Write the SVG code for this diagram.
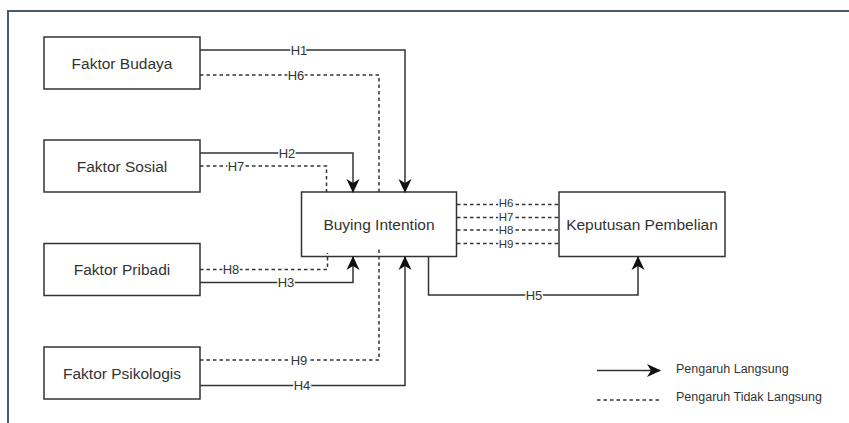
<svg xmlns="http://www.w3.org/2000/svg" width="849" height="423" viewBox="0 0 849 423">
<style>
.box{fill:#fff;stroke:#333;stroke-width:1.5}
.t{font-family:"Liberation Sans",Arial,sans-serif;font-size:15.5px;fill:#333;text-anchor:middle;dominant-baseline:central}
.ln{fill:none;stroke:#333;stroke-width:1.5}
.dl{fill:none;stroke:#333;stroke-width:1.5;stroke-dasharray:3.5 3}
.lb{font-family:"Liberation Sans",Arial,sans-serif;font-size:13px;fill:#333;text-anchor:middle;dominant-baseline:central;stroke:#fff;stroke-width:3;paint-order:stroke}
.lbs{font-size:11.5px}
.lg{font-family:"Liberation Sans",Arial,sans-serif;font-size:12.5px;fill:#333;dominant-baseline:central}
</style>
<defs>
<marker id="arr" markerUnits="userSpaceOnUse" markerWidth="14" markerHeight="14" viewBox="0 0 14 14" refX="13" refY="7" orient="auto">
<path d="M0,0.5 L14,7 L0,13.5 L4,7 z" fill="#111"/>
</marker>
</defs>
<rect width="849" height="423" fill="#fff"/>
<path d="M8,423 L8,11 L849,11" fill="none" stroke="#4b5a70" stroke-width="2"/>
<g id="budaya"><rect class="box" x="44" y="37" width="156" height="52"/><text class="t" x="122" y="63">Faktor Budaya</text></g>
<g id="sosial"><rect class="box" x="44" y="140" width="156" height="52"/><text class="t" x="122" y="166">Faktor Sosial</text></g>
<g id="pribadi"><rect class="box" x="44" y="243.5" width="156" height="52"/><text class="t" x="122" y="269.5">Faktor Pribadi</text></g>
<g id="psikologis"><rect class="box" x="44" y="347" width="156" height="52"/><text class="t" x="122" y="373">Faktor Psikologis</text></g>
<g id="buying"><rect class="box" x="301.5" y="192" width="155" height="64.5"/><text class="t" x="379" y="224">Buying Intention</text></g>
<g id="keputusan"><rect class="box" x="559" y="192" width="166" height="64.5"/><text class="t" x="642" y="224">Keputusan Pembelian</text></g>
<g id="connectors">
<path class="ln" d="M200,50 L405,50 L405,192" marker-end="url(#arr)"/>
<path class="dl" d="M200,75 L379,75 L379,192"/>
<path class="ln" d="M200,153 L353,153 L353,192" marker-end="url(#arr)"/>
<path class="dl" d="M200,166 L326.5,166 L326.5,192"/>
<path class="dl" d="M200,269.5 L327.5,269.5 L327.5,253"/>
<path class="ln" d="M200,282.5 L353,282.5 L353,257" marker-end="url(#arr)"/>
<path class="dl" d="M200,360 L379,360 L379,249"/>
<path class="ln" d="M200,385.5 L405,385.5 L405,257" marker-end="url(#arr)"/>
<path class="ln" d="M428.5,256.5 L428.5,295 L638,295 L638,257" marker-end="url(#arr)"/>
<path class="dl" d="M457,204.5 L559,204.5"/>
<path class="dl" d="M457,217.5 L559,217.5"/>
<path class="dl" d="M457,230 L559,230"/>
<path class="dl" d="M457,243.5 L559,243.5"/>
<text class="lb" x="299" y="50">H1</text>
<text class="lb" x="296" y="75">H6</text>
<text class="lb" x="287" y="153">H2</text>
<text class="lb" x="236" y="166">H7</text>
<text class="lb" x="231" y="269.5">H8</text>
<text class="lb" x="286" y="282.5">H3</text>
<text class="lb" x="299" y="360">H9</text>
<text class="lb" x="302" y="385.5">H4</text>
<text class="lb" x="534" y="295">H5</text>
<text class="lb lbs" x="506" y="202.5">H6</text>
<text class="lb lbs" x="506" y="217">H7</text>
<text class="lb lbs" x="506" y="230">H8</text>
<text class="lb lbs" x="506" y="243.5">H9</text>
</g>
<g id="legend">
<path class="ln" d="M597,370.5 L660,370.5" marker-end="url(#arr)"/>
<path class="dl" d="M597,400 L660,400"/>
<text class="lg" x="676" y="369">Pengaruh Langsung</text>
<text class="lg" x="676" y="396.5">Pengaruh Tidak Langsung</text>
</g>
</svg>
